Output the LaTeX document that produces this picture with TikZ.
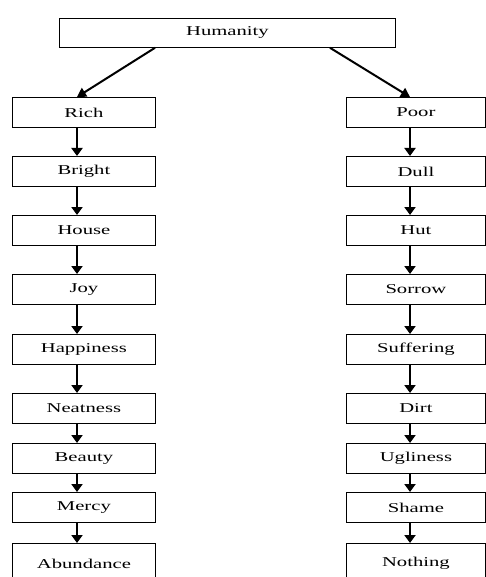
\documentclass[tikz,border=0pt]{standalone}
\usepackage{fontspec}
\setmainfont{Liberation Serif}
\usetikzlibrary{arrows.meta,calc}
\newcommand{\wtxt}[1]{\scalebox{1.53}[1]{#1}}
\begin{document}
\begin{tikzpicture}[x=1pt,y=-1pt,
  box/.style={draw, line width=0.8pt, minimum height=30pt, inner sep=0pt, anchor=north west,
    font=\fontsize{13.5}{14}\selectfont},
  lbox/.style={box, minimum width=143pt},
  rbox/.style={box, minimum width=139pt},
  varr/.style={line width=2.8pt, -{Triangle[width=11pt,length=8pt]}},
  darr/.style={line width=2pt, -{Triangle[width=10pt,length=9pt]}}]
\clip (0,0) rectangle (486,577);
\fill[white] (0,0) rectangle (486,577);
\coordinate (xl) at (77,0);
\coordinate (xr) at (410,0);
\node[box, minimum width=336pt, minimum height=29pt] (hum) at (59,18) {\wtxt{Humanity}};
\foreach \n/\t/\y in {l1/Rich/97, l2/Bright/156, l3/House/215, l4/Joy/274, l5/Happiness/334, l6/Neatness/393, l7/Beauty/443, l8/Mercy/492}
  \node[lbox] (\n) at (12,\y) {\wtxt{\t}};
\node[lbox, minimum height=40pt] (l9) at (12,543) {\wtxt{Abundance}};
\foreach \n/\t/\y in {r1/Poor/97, r2/Dull/156, r3/Hut/215, r4/Sorrow/274, r5/Suffering/334, r6/Dirt/393, r7/Ugliness/443, r8/Shame/492}
  \node[rbox] (\n) at (346,\y) {\wtxt{\t}};
\node[rbox, minimum height=40pt] (r9) at (346,543) {\wtxt{Nothing}};
\draw[darr] ($(hum.south west)+(96,0)$) -- (l1.north -| xl);
\draw[darr] ($(hum.south west)+(271,0)$) -- (r1.north -| xr);
\foreach \a/\b in {1/2,2/3,3/4,4/5,5/6,6/7,7/8,8/9}{
  \draw[varr] (l\a.south -| xl) -- (l\b.north -| xl);
  \draw[varr] (r\a.south -| xr) -- (r\b.north -| xr);
}
\end{tikzpicture}
\end{document}
